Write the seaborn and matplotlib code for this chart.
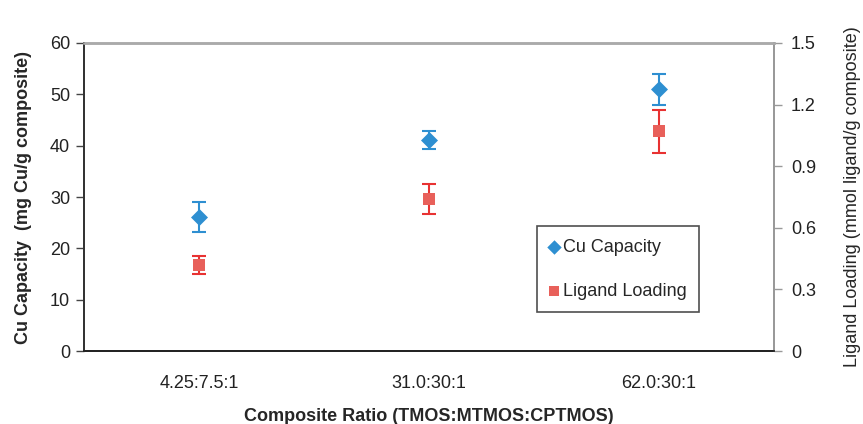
import matplotlib
matplotlib.use('Agg')
import matplotlib.pyplot as plt
import seaborn as sns
import pandas as pd

# dados
ratios = ['4.25:7.5:1', '31.0:30:1', '62.0:30:1']
cu_capacity = [26.1, 41.1, 51.0]
cu_err = [2.9, 1.8, 3.0]
ligand_loading = [0.42, 0.74, 1.07]
ligand_err = [0.043, 0.073, 0.105]

df = pd.DataFrame({'pos': range(len(ratios)), 'ratio': ratios,
                   'cu': cu_capacity, 'cu_err': cu_err,
                   'lig': ligand_loading, 'lig_err': ligand_err})

sns.set_style('white')
plt.rcParams['font.family'] = ['Liberation Sans', 'DejaVu Sans']

blue = '#2E8FD1'
red_fill = '#E8605A'
red_line = '#E83232'

fig = plt.figure(figsize=(8.63, 4.24), dpi=100)
ax = fig.add_axes([0.0973, 0.172, 0.7997, 0.7266])
ax2 = ax.twinx()

# Cu Capacity (eixo esquerdo)
ax.errorbar(df['pos'], df['cu'], yerr=df['cu_err'], fmt='none', ecolor=blue,
            elinewidth=1.5, capsize=5, capthick=1.5, zorder=2)
sns.scatterplot(x='pos', y='cu', data=df, ax=ax, marker='D', s=75, color=blue,
                edgecolor=blue, linewidth=0, zorder=3, label='Cu Capacity', legend=False)

# Ligand Loading (eixo direito)
ax2.errorbar(df['pos'], df['lig'], yerr=df['lig_err'], fmt='none', ecolor=red_line,
             elinewidth=1.5, capsize=5, capthick=1.5, zorder=2)
sns.scatterplot(x='pos', y='lig', data=df, ax=ax2, marker='s', s=80, color=red_fill,
                edgecolor=red_fill, linewidth=0, zorder=3, label='Ligand Loading', legend=False)

ax.set_xlim(-0.5, 2.5)
ax.set_ylim(0, 60)
ax2.set_ylim(0, 1.5)
ax.set_yticks(range(0, 61, 10))
ax2.set_yticks([0, 0.3, 0.6, 0.9, 1.2, 1.5])
ax2.set_yticklabels(['0', '0.3', '0.6', '0.9', '1.2', '1.5'])

# ticks de categoria: marcas nas divisões, rótulos no centro
ax.set_xticks([-0.5, 0.5, 1.5, 2.5])
ax.set_xticklabels([])
ax.set_xticks(df['pos'], minor=True)
ax.set_xticklabels(ratios, minor=True)
ax.tick_params(axis='x', which='minor', length=0, pad=17, labelsize=13, labelcolor='#222222')
ax.tick_params(axis='x', which='major', direction='out', length=6, width=1, color='#222222')
ax.tick_params(axis='y', direction='out', length=6, width=1, color='#444444',
               labelsize=13, labelcolor='#222222', pad=4, left=True)
ax2.tick_params(axis='y', direction='out', length=6, width=1, color='#999999',
                labelsize=13, labelcolor='#222222', pad=6, right=True)

for a in (ax, ax2):
    a.spines['top'].set_color('#aaaaaa')
    a.spines['top'].set_linewidth(1.8)
    a.spines['right'].set_color('#999999')
    a.spines['right'].set_linewidth(1.3)
    a.spines['left'].set_color('#333333')
    a.spines['left'].set_linewidth(1.3)
    a.spines['bottom'].set_color('#222222')
    a.spines['bottom'].set_linewidth(1.3)

ax.set_xlabel('Composite Ratio (TMOS:MTMOS:CPTMOS)', fontsize=13, fontweight='bold', labelpad=12)
ax.set_ylabel('Cu Capacity  (mg Cu/g composite)', fontsize=13, fontweight='bold', labelpad=13)
ax2.set_ylabel('Ligand Loading (mmol ligand/g composite)', fontsize=13, labelpad=20)

h1, l1 = ax.get_legend_handles_labels()
h2, l2 = ax2.get_legend_handles_labels()
leg = ax2.legend(h1 + h2, l1 + l2, loc='upper left', bbox_to_anchor=(0.622, 0.467),
                 bbox_transform=fig.transFigure, fontsize=13, frameon=True, fancybox=False,
                 edgecolor='#222222', labelspacing=1.5, handlelength=0.5, handletextpad=0.25,
                 borderpad=0.7, borderaxespad=0, markerscale=0.85)
leg.get_frame().set_linewidth(1.2)

plt.savefig('out.png', dpi=100)
